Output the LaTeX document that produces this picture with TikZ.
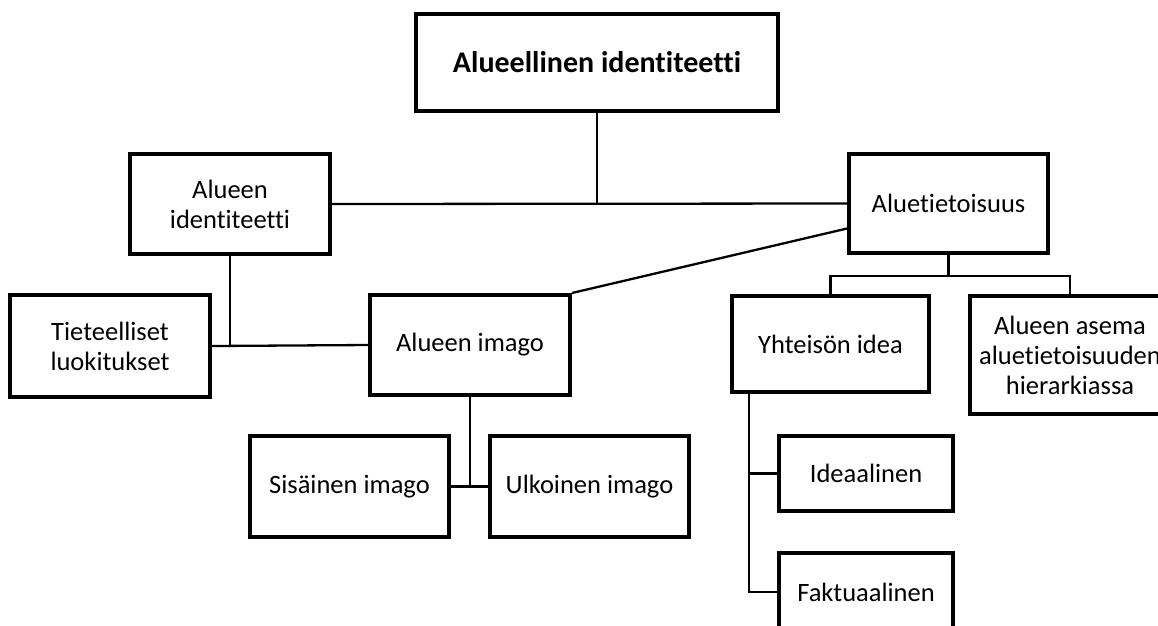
\documentclass[tikz,border=0pt]{standalone}
\usepackage{fontspec}
\setmainfont{Carlito}[Ligatures=NoCommon]
\tikzset{
  box/.style={draw, line width=4pt, align=center, inner sep=2pt,
    font=\fontsize{26.5}{30}\selectfont},
  link/.style={line width=2.3pt}
}
\begin{document}
\begin{tikzpicture}[x=1pt, y=-1pt]
\useasboundingbox (0,0) rectangle (1158,625);
% boxes
\node[box, minimum width=362pt, minimum height=97pt, font=\bfseries\fontsize{30}{30}\selectfont] (top) at (597,62.5) {Alueellinen identiteetti};
\node[box, minimum width=200pt, minimum height=100pt] (aid) at (230,204) {Alueen\\identiteetti};
\node[box, minimum width=199pt, minimum height=99pt] (atiet) at (948.5,203.5) {Aluetietoisuus};
\node[box, minimum width=200pt, minimum height=102pt] (tiet) at (110,346) {Tieteelliset\\luokitukset};
\node[box, minimum width=200pt, minimum height=100pt] (imago) at (470,345) {Alueen imago};
\node[box, minimum width=199pt, minimum height=101pt] (sis) at (349.5,486.5) {Sisäinen imago};
\node[box, minimum width=199pt, minimum height=101pt] (ulk) at (589.5,486.5) {Ulkoinen imago};
\node[box, minimum width=197pt, minimum height=96pt] (yht) at (830.5,344) {Yhteisön idea};
\node[box, minimum width=200pt, minimum height=118pt] (asema) at (1070,355) {Alueen asema\\aluetietoisuuden\\hierarkiassa};
\node[box, minimum width=174pt, minimum height=75pt] (ideaal) at (866,473.5) {Ideaalinen};
\node[box, minimum width=174pt, minimum height=78pt] (fakt) at (866,592) {Faktuaalinen};
% connectors
\draw[link] (top.south) -- (top.south |- aid.east);
\draw[link] (aid.east) -- (atiet.west);
\draw[link] (aid.south) -- (aid.south |- imago.west);
\draw[link] (tiet.east) -- (imago.west);
\draw[link] ([yshift=-25pt]atiet.west) -- (imago.north east);
\coordinate (bus) at ([yshift=-21pt]atiet.south);
\draw[link] (atiet.south) -- (bus);
\draw[link] (yht.north) |- (bus) -| (asema.north);
\draw[link] (imago.south) -- (imago.south |- sis.east);
\draw[link] (sis.east) -- (ulk.west);
\coordinate (yroot) at ([xshift=19pt]yht.south west);
\draw[link] (yroot) |- (ideaal.west);
\draw[link] (yroot) |- (fakt.west);
\end{tikzpicture}
\end{document}
